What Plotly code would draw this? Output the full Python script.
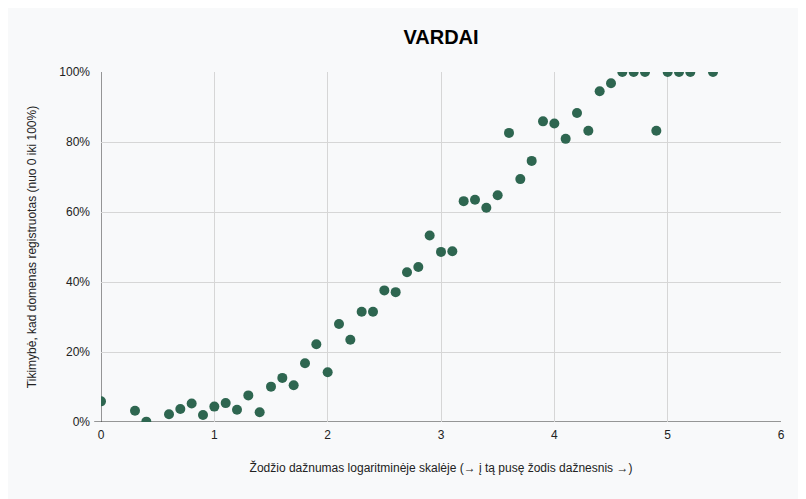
import plotly.graph_objects as go

x_vals = [0, 0.3, 0.4, 0.6, 0.7, 0.8, 0.9, 1.0, 1.1, 1.2, 1.3, 1.4, 1.5, 1.6, 1.7, 1.8, 1.9,
          2.0, 2.1, 2.2, 2.3, 2.4, 2.5, 2.6, 2.7, 2.8, 2.9, 3.0, 3.1, 3.2, 3.3, 3.4, 3.5,
          3.6, 3.7, 3.8, 3.9, 4.0, 4.1, 4.2, 4.3, 4.4, 4.5, 4.6, 4.7, 4.8, 4.9, 5.0, 5.1,
          5.2, 5.4]
y_vals = [5.9, 3.2, 0.1, 2.2, 3.7, 5.3, 2.0, 4.4, 5.4, 3.5, 7.6, 2.8, 10.1, 12.6, 10.5, 16.8, 22.2,
          14.2, 28.0, 23.5, 31.5, 31.5, 37.6, 37.1, 42.8, 44.3, 53.3, 48.6, 48.8, 63.1, 63.5, 61.2, 64.8,
          82.6, 69.4, 74.6, 85.9, 85.3, 80.9, 88.3, 83.2, 94.5, 96.8, 100, 100, 100, 83.2, 100, 100,
          100, 100]
y_fracs = [v / 100 for v in y_vals]

x_ticks = [0, 1, 2, 3, 4, 5, 6]
y_ticks = [0, 0.2, 0.4, 0.6, 0.8, 1.0]
y_tick_labels = ["0%", "20%", "40%", "60%", "80%", "100%"]

fig = go.Figure()
fig.add_trace(go.Scatter(
    x=x_vals, y=y_fracs, mode="markers",
    marker=dict(size=10, color="#2e6650", line=dict(width=0)),
    cliponaxis=True, hoverinfo="x+y"
))

font = "Liberation Sans, Arial, sans-serif"
fig.update_layout(
    width=798, height=491,
    paper_bgcolor="#f8f9fa", plot_bgcolor="#f8f9fa",
    margin=dict(l=93, r=25, t=64, b=77),
    showlegend=False,
    font=dict(family=font, size=12, color="#222222"),
    title=dict(text="<b>VARDAI</b>", xref="paper", x=0.5, xanchor="center",
               yref="container", y=0.94, yanchor="middle",
               font=dict(family=font, size=20, color="#000000")),
)
fig.update_xaxes(
    range=[0, 6], tickvals=x_ticks, ticktext=[str(t) for t in x_ticks],
    showgrid=True, gridcolor="#d6d6d6", gridwidth=1,
    zeroline=False, showline=False, ticks="", ticklen=0,
    ticklabelstandoff=4,
    tickfont=dict(size=12, color="#222222"),
    title=dict(text="Žodžio dažnumas logaritminėje skalėje (→ į tą pusę žodis dažnesnis →)",
               font=dict(size=12, color="#222222"), standoff=22),
)
fig.update_yaxes(
    range=[0, 1], tickvals=y_ticks, ticktext=y_tick_labels,
    showgrid=True, gridcolor="#d6d6d6", gridwidth=1,
    zeroline=False, showline=False, ticks="",
    ticklabelstandoff=10,
    tickfont=dict(size=12, color="#222222"),
    title=dict(text="Tikimybė, kad domenas registruotas (nuo 0 iki 100%)",
               font=dict(size=12, color="#222222"), standoff=20),
)
fig.add_shape(type="line", xref="x", yref="paper", x0=0, x1=0, y0=0, y1=1,
              line=dict(color="#333333", width=1), layer="below")
fig.add_shape(type="line", xref="paper", yref="y", x0=-0.01, x1=1, y0=0, y1=0,
              line=dict(color="#333333", width=1), layer="below")

fig.write_html("out.html")
